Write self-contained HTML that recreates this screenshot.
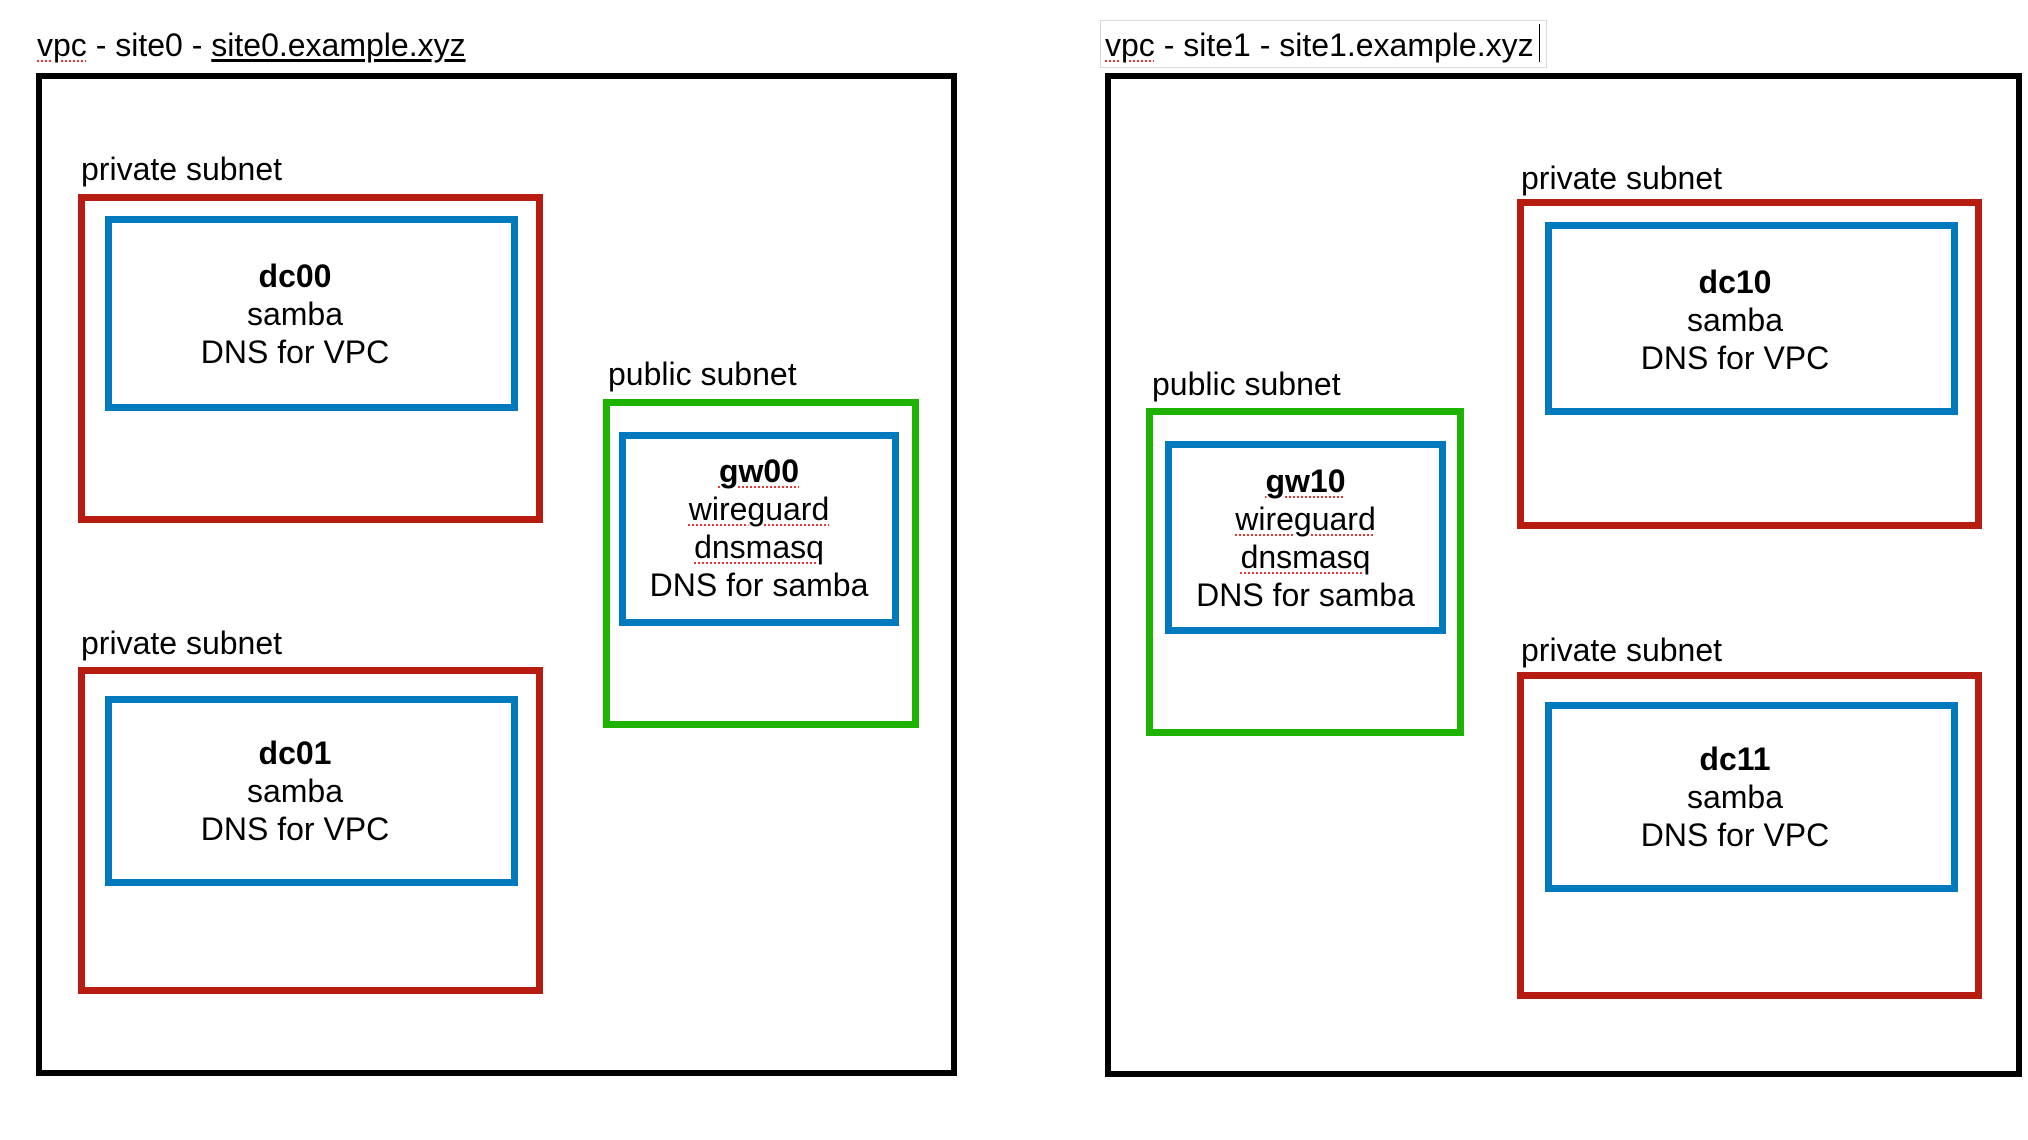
<!DOCTYPE html>
<html><head><meta charset="utf-8"><style>
html,body{margin:0;padding:0;background:#fff;}
body{width:2028px;height:1140px;position:relative;overflow:hidden;font-family:"Liberation Sans",Arial,sans-serif;color:#000;}
.b{position:absolute;box-sizing:border-box;}
.vpc{border:6px solid #000;}
.red{border:7px solid #b81c10;}
.blue{border:7px solid #0079bd;}
.green{border:7px solid #1db300;}
.t{position:absolute;font-size:32px;line-height:38px;white-space:nowrap;}
.c{text-align:center;}
.sp{text-decoration:underline dotted #e33;text-decoration-thickness:2px;text-underline-offset:4px;}
.title{font-size:32px;}
</style></head><body>

<div class="t title" style="left:37px;top:26px;"><span class="sp">vpc</span> - site0 - <span style="text-decoration:underline;text-underline-offset:3px;">site0.example.xyz</span></div>
<div class="b vpc" style="left:36px;top:73px;width:921px;height:1003px;"></div>

<div class="t" style="left:81px;top:150px;">private subnet</div>
<div class="b red" style="left:78px;top:194px;width:465px;height:329px;"></div>
<div class="b blue" style="left:105px;top:216px;width:413px;height:195px;"></div>
<div class="t c" style="left:105px;width:380px;top:257px;"><b>dc00</b><br>samba<br>DNS for VPC</div>

<div class="t" style="left:608px;top:355px;">public subnet</div>
<div class="b green" style="left:603px;top:399px;width:316px;height:329px;"></div>
<div class="b blue" style="left:619px;top:432px;width:280px;height:194px;"></div>
<div class="t c" style="left:619px;width:280px;top:452px;"><b class="sp">gw00</b><br><span class="sp">wireguard</span><br><span class="sp">dnsmasq</span><br>DNS for samba</div>

<div class="t" style="left:81px;top:624px;">private subnet</div>
<div class="b red" style="left:78px;top:667px;width:465px;height:327px;"></div>
<div class="b blue" style="left:105px;top:696px;width:413px;height:190px;"></div>
<div class="t c" style="left:105px;width:380px;top:734px;"><b>dc01</b><br>samba<br>DNS for VPC</div>

<div class="b" style="left:1100px;top:20px;width:447px;height:48px;border:1px solid #d8d8d8;"></div>
<div class="t title" style="left:1105px;top:26px;"><span class="sp">vpc</span> - site1 - site1.example.xyz</div>
<div class="b" style="left:1539px;top:24px;width:1px;height:38px;background:#000;"></div>
<div class="b vpc" style="left:1105px;top:73px;width:917px;height:1004px;"></div>

<div class="t" style="left:1521px;top:159px;">private subnet</div>
<div class="b red" style="left:1517px;top:199px;width:465px;height:330px;"></div>
<div class="b blue" style="left:1545px;top:222px;width:413px;height:193px;"></div>
<div class="t c" style="left:1545px;width:380px;top:263px;"><b>dc10</b><br>samba<br>DNS for VPC</div>

<div class="t" style="left:1152px;top:365px;">public subnet</div>
<div class="b green" style="left:1146px;top:408px;width:318px;height:328px;"></div>
<div class="b blue" style="left:1165px;top:441px;width:281px;height:193px;"></div>
<div class="t c" style="left:1165px;width:281px;top:462px;"><b class="sp">gw10</b><br><span class="sp">wireguard</span><br><span class="sp">dnsmasq</span><br>DNS for samba</div>

<div class="t" style="left:1521px;top:631px;">private subnet</div>
<div class="b red" style="left:1517px;top:672px;width:465px;height:327px;"></div>
<div class="b blue" style="left:1545px;top:702px;width:413px;height:190px;"></div>
<div class="t c" style="left:1545px;width:380px;top:740px;"><b>dc11</b><br>samba<br>DNS for VPC</div>

</body></html>
